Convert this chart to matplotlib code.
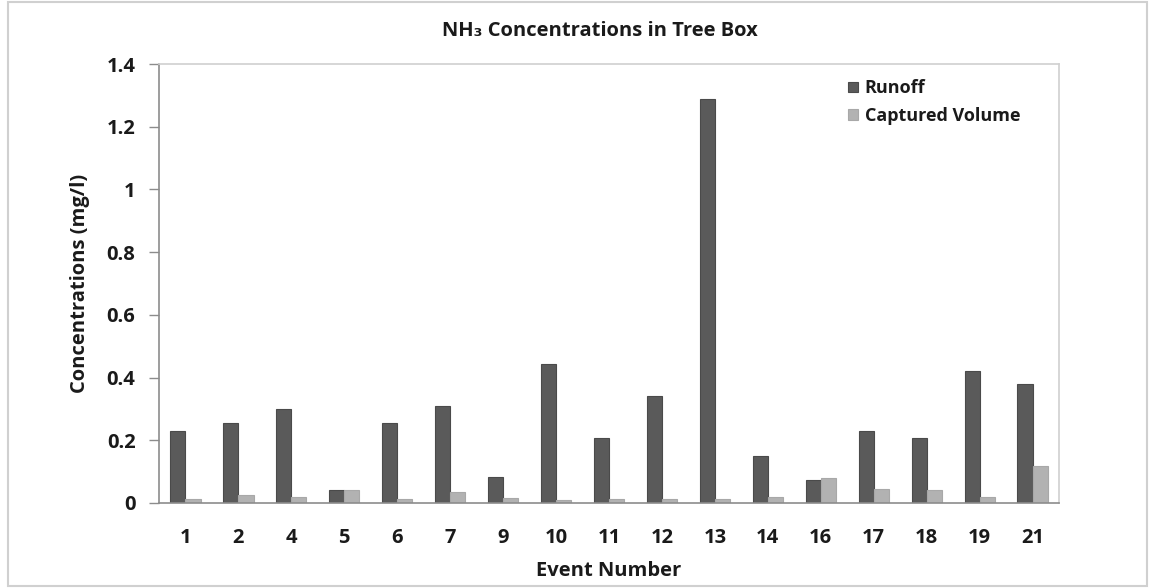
import matplotlib
matplotlib.use("Agg")
import matplotlib.pyplot as plt
from matplotlib.patches import Rectangle
import numpy as np

events = ["1", "2", "4", "5", "6", "7", "9", "10", "11", "12", "13", "14", "16", "17", "18", "19", "21"]
runoff = [0.23, 0.255, 0.30, 0.04, 0.255, 0.31, 0.083, 0.443, 0.207, 0.34, 1.288, 0.15, 0.072, 0.23, 0.207, 0.42, 0.38]
captured = [0.013, 0.025, 0.02, 0.04, 0.012, 0.035, 0.015, 0.008, 0.012, 0.012, 0.012, 0.02, 0.08, 0.045, 0.043, 0.02, 0.118]
yticks = [0, 0.2, 0.4, 0.6, 0.8, 1.0, 1.2, 1.4]
ytick_labels = ["0", "0.2", "0.4", "0.6", "0.8", "1", "1.2", "1.4"]

plt.rcParams['font.family'] = ['Open Sans', 'DejaVu Sans']
plt.rcParams['font.weight'] = 'bold'

W, H = 1150, 588
fs = 14.5
fig = plt.figure(figsize=(W / 100, H / 100), dpi=100)
fig.patch.set_facecolor('white')
fig.patches.append(Rectangle((8 / W, 1 - 586 / H), 1139 / W, 584 / H, transform=fig.transFigure,
                             fill=False, edgecolor='#d0d0d0', linewidth=1.5))

ax = fig.add_axes([159 / W, 1 - 503 / H, 900 / W, 439 / H])
x = np.arange(len(events))
bw = 0.285
ax.bar(x - bw / 2, runoff, width=bw, color='#5a5a5a', edgecolor='#4a4a4a', linewidth=0.8, label='Runoff')
ax.bar(x + bw / 2, captured, width=bw, color='#b2b2b2', edgecolor='#a8a8a8', linewidth=0.8, label='Captured Volume')

ax.set_xlim(-0.5, len(events) - 0.5)
ax.set_ylim(0, 1.4)
ax.set_yticks(yticks)
ax.set_yticklabels(ytick_labels)
ax.set_xticks(x)
ax.set_xticklabels(events)
ax.tick_params(axis='y', direction='out', length=7, width=1, color='#8c8c8c', labelsize=fs, pad=10)
ax.tick_params(axis='x', length=0, labelsize=fs, pad=18)
for lab in ax.get_xticklabels() + ax.get_yticklabels():
    lab.set_fontweight('bold')
    lab.set_color('#1a1a1a')

for s in ['left', 'bottom']:
    ax.spines[s].set_color('#8c8c8c')
    ax.spines[s].set_linewidth(1.2)
for s in ['top', 'right']:
    ax.spines[s].set_color('#d0d0d0')
    ax.spines[s].set_linewidth(1.2)

ax.set_ylabel('Concentrations (mg/l)', fontsize=fs, fontweight='bold', color='#1a1a1a', labelpad=12)
ax.set_xlabel('Event Number', fontsize=fs, fontweight='bold', color='#1a1a1a', labelpad=9)
fig.text(600 / W, 1 - 31 / H, 'NH₃ Concentrations in Tree Box', ha='center', va='center',
         fontsize=fs, fontweight='bold', color='#1a1a1a')

leg = ax.legend(loc='upper left', bbox_to_anchor=(674 / 900, 1.0), frameon=False, fontsize=13,
                handlelength=0.55, handleheight=0.55, handletextpad=0.35, labelspacing=0.55,
                borderaxespad=0.45)
for t in leg.get_texts():
    t.set_fontweight('bold')
    t.set_color('#1a1a1a')

fig.savefig('out.png', dpi=100, facecolor='white')
